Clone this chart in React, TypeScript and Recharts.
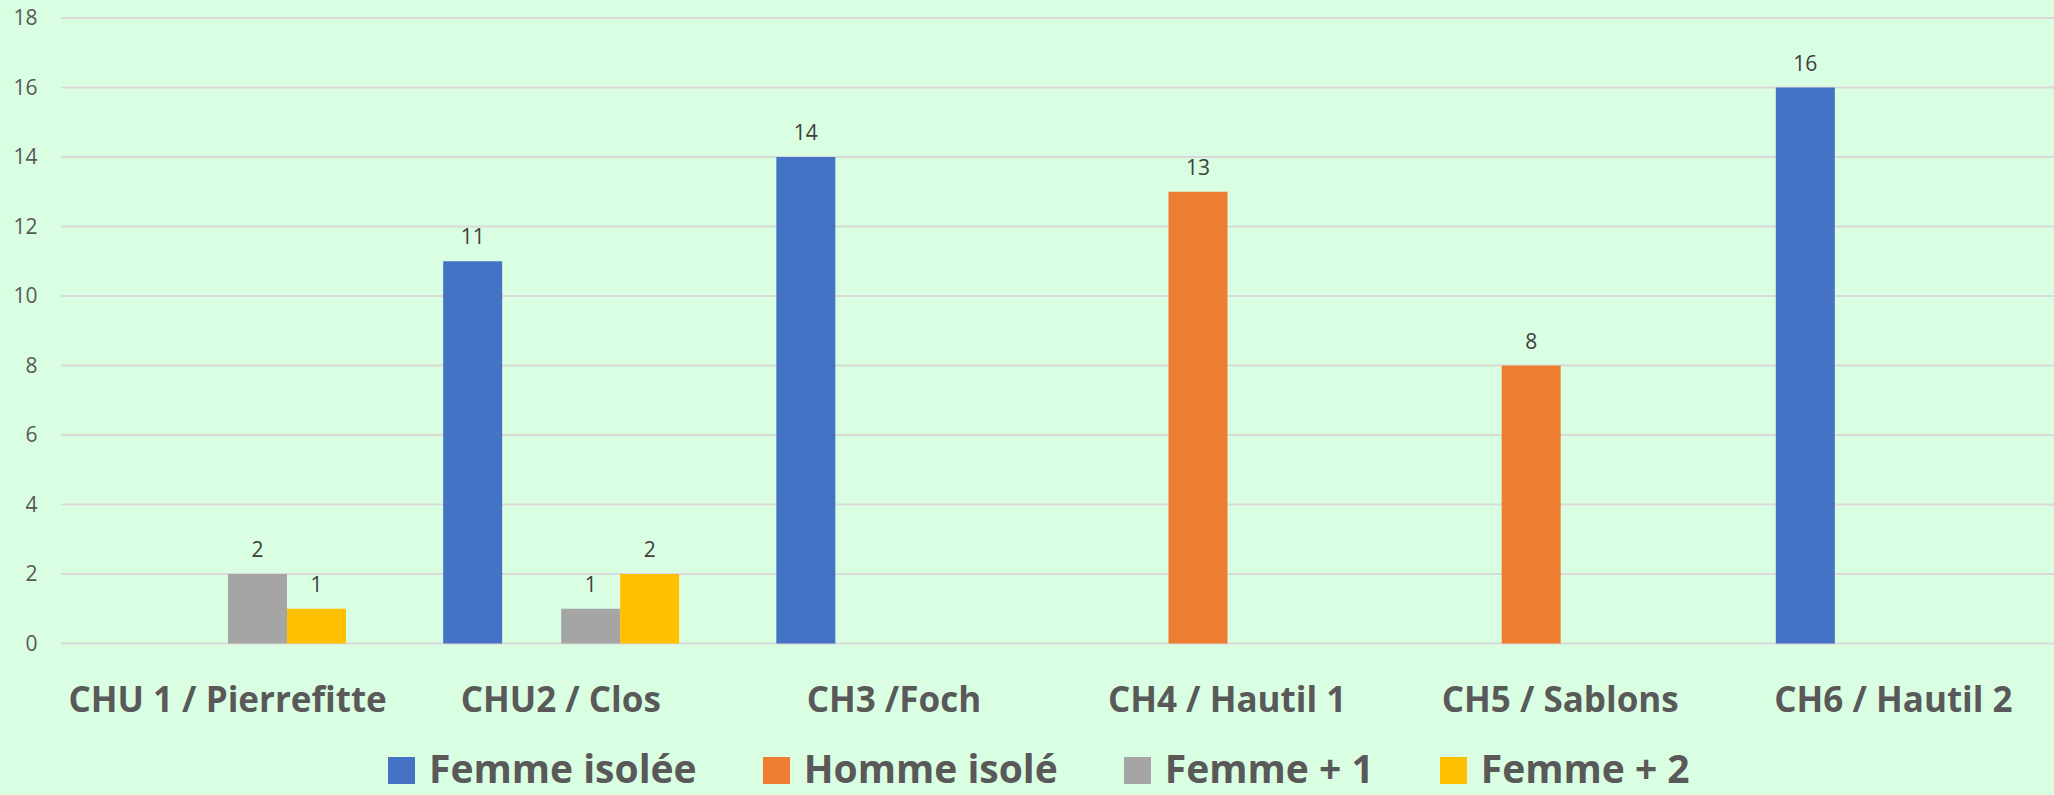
import { BarChart, Bar, XAxis, YAxis, CartesianGrid, Legend, LabelList } from 'recharts';

const categories = [
  'CHU 1 / Pierrefitte',
  'CHU2 / Clos',
  'CH3 /Foch',
  'CH4 / Hautil 1',
  'CH5 / Sablons',
  'CH6 / Hautil 2',
];

// empty cells are null (Excel shows neither bar nor label)
const femmeIsolee = [null, 11, 14, null, null, 16];
const hommeIsole = [null, null, null, 13, 8, null];
const femmePlus1 = [2, 1, null, null, null, null];
const femmePlus2 = [1, 2, null, null, null, null];

const yTicks = [0, 2, 4, 6, 8, 10, 12, 14, 16, 18];

const series = [
  { key: 'femmeIsolee', name: 'Femme isolée', color: '#4472C4' },
  { key: 'hommeIsole', name: 'Homme isolé', color: '#ED7D31' },
  { key: 'femmePlus1', name: 'Femme + 1', color: '#A5A5A5' },
  { key: 'femmePlus2', name: 'Femme + 2', color: '#FFC000' },
];

const data = categories.map((name, i) => ({
  name,
  femmeIsolee: femmeIsolee[i],
  hommeIsole: hommeIsole[i],
  femmePlus1: femmePlus1[i],
  femmePlus2: femmePlus2[i],
}));

const FONT = '"Open Sans", sans-serif';

// the page keeps the default 8px body margin otherwise
if (typeof document !== 'undefined') {
  document.body.style.margin = '0';
}

const ChartLegend = () => (
  <div style={{ display: 'flex', gap: 66, height: 54, fontFamily: FONT }}>
    {series.map((s) => (
      <div key={s.key} style={{ display: 'flex', alignItems: 'center' }}>
        <span
          style={{
            display: 'inline-block',
            width: 27,
            height: 27,
            background: s.color,
            marginRight: 14,
            position: 'relative',
            top: 2,
          }}
        />
        <span style={{ fontSize: 39, fontWeight: 700, color: '#595959', lineHeight: '54px', whiteSpace: 'nowrap' }}>
          {s.name}
        </span>
      </div>
    ))}
  </div>
);

const App = () => {
  return (
    <div style={{ width: 2054, height: 795, overflow: 'hidden', background: '#D9FEE1' }}>
      <BarChart
        width={2070}
        height={795}
        data={data}
        margin={{ top: 18, right: 10, left: 11, bottom: 0 }}
        barGap={0}
        barSize={59}
        style={{ fontFamily: FONT }}
      >
        <CartesianGrid vertical={false} stroke="#D9D9D9" strokeWidth={2} />
        <XAxis
          dataKey="name"
          interval={0}
          height={97.5}
          axisLine={false}
          tickLine={false}
          tickMargin={37.5}
          tick={{ fontSize: 35, fontWeight: 700, fill: '#595959' }}
        />
        <YAxis
          domain={[0, 18]}
          ticks={yTicks}
          width={50}
          axisLine={false}
          tickLine={false}
          tickMargin={17.5}
          tick={{ fontSize: 21, fill: '#595959' }}
        />
        <Legend
          verticalAlign="bottom"
          height={54}
          content={<ChartLegend />}
          wrapperStyle={{ left: 388, width: 1500, bottom: 0 }}
        />
        {series.map((s) => (
          <Bar key={s.key} dataKey={s.key} name={s.name} fill={s.color} isAnimationActive={false}>
            <LabelList
              dataKey={s.key}
              position="top"
              offset={17}
              fill="#404040"
              fontSize={21}
              formatter={(v: any) => (v == null ? '' : v)}
            />
          </Bar>
        ))}
      </BarChart>
    </div>
  );
};

export default App;
